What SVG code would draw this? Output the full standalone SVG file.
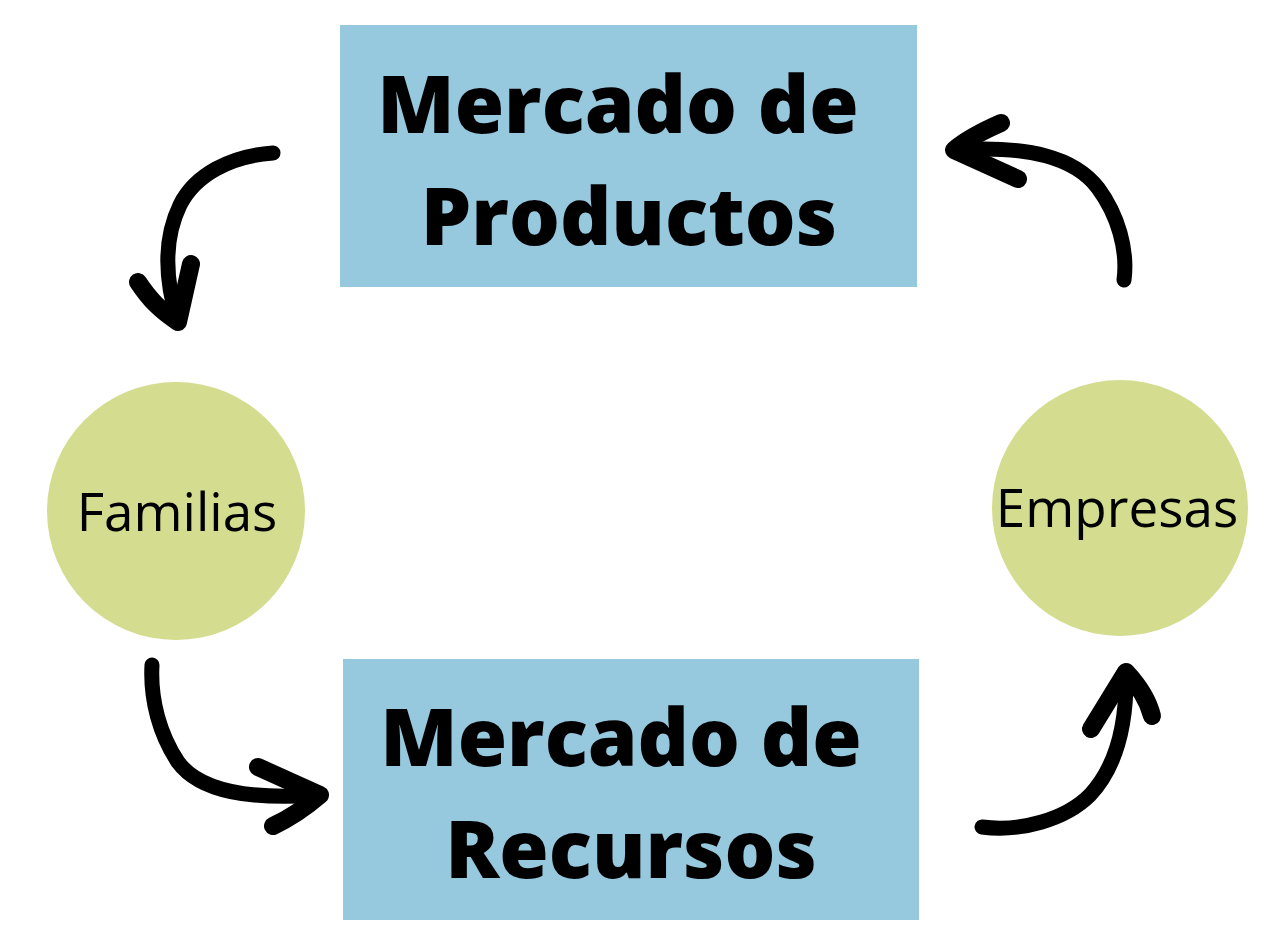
<svg xmlns="http://www.w3.org/2000/svg" width="1278" height="950" viewBox="0 0 1278 950">
<style>
.box{fill:#96c8de}
.circ{fill:#d4dc8f}
.big{font-family:"Open Sans",sans-serif;font-weight:800;font-size:80px;fill:#000;text-anchor:middle}
.small{font-family:"Open Sans",sans-serif;font-weight:400;font-size:53px;fill:#000;text-anchor:middle}
.arr{fill:none;stroke:#000;stroke-width:15;stroke-linecap:round;stroke-linejoin:round}
.head{fill:none;stroke:#000;stroke-width:18;stroke-linecap:round;stroke-linejoin:round}
</style>
<rect width="1278" height="950" fill="#fff"/>
<g id="mercado-productos">
<rect class="box" x="340" y="25" width="577" height="262"/>
<text class="big" x="618" y="133">Mercado de</text>
<text class="big" x="629" y="245">Productos</text>
</g>
<g id="mercado-recursos">
<rect class="box" x="343" y="659" width="576" height="261"/>
<text class="big" x="621" y="766">Mercado de</text>
<text class="big" x="631" y="878">Recursos</text>
</g>
<g id="familias">
<circle class="circ" cx="176" cy="511" r="129"/>
<text class="small" x="177" y="531">Familias</text>
</g>
<g id="empresas">
<circle class="circ" cx="1120" cy="508" r="128"/>
<text class="small" x="1117" y="527">Empresas</text>
</g>
<g id="connectors">
<path class="arr" d="M273 153 C230 156 195 175 180 205 C163 240 165 280 178 322"/>
<path class="head" d="M138 282 C150 300 160 310 178 322 L191 264"/>
<path class="arr" d="M1124 280 C1128 250 1118 215 1098 188 C1075 158 1030 145 954 150"/>
<path class="head" d="M1001 123 C985 130 968 138 954 150 L1018 179"/>
<path class="arr" d="M152 665 C150 700 160 735 178 762 C200 792 250 800 320 795"/>
<path class="head" d="M258 767 L320 795 C305 808 290 818 273 826"/>
<path class="arr" d="M982 827 C1020 832 1065 820 1090 795 C1118 765 1127 720 1126 672"/>
<path class="head" d="M1091 729 L1126 672 C1140 687 1148 700 1152 716"/>
</g>
</svg>
